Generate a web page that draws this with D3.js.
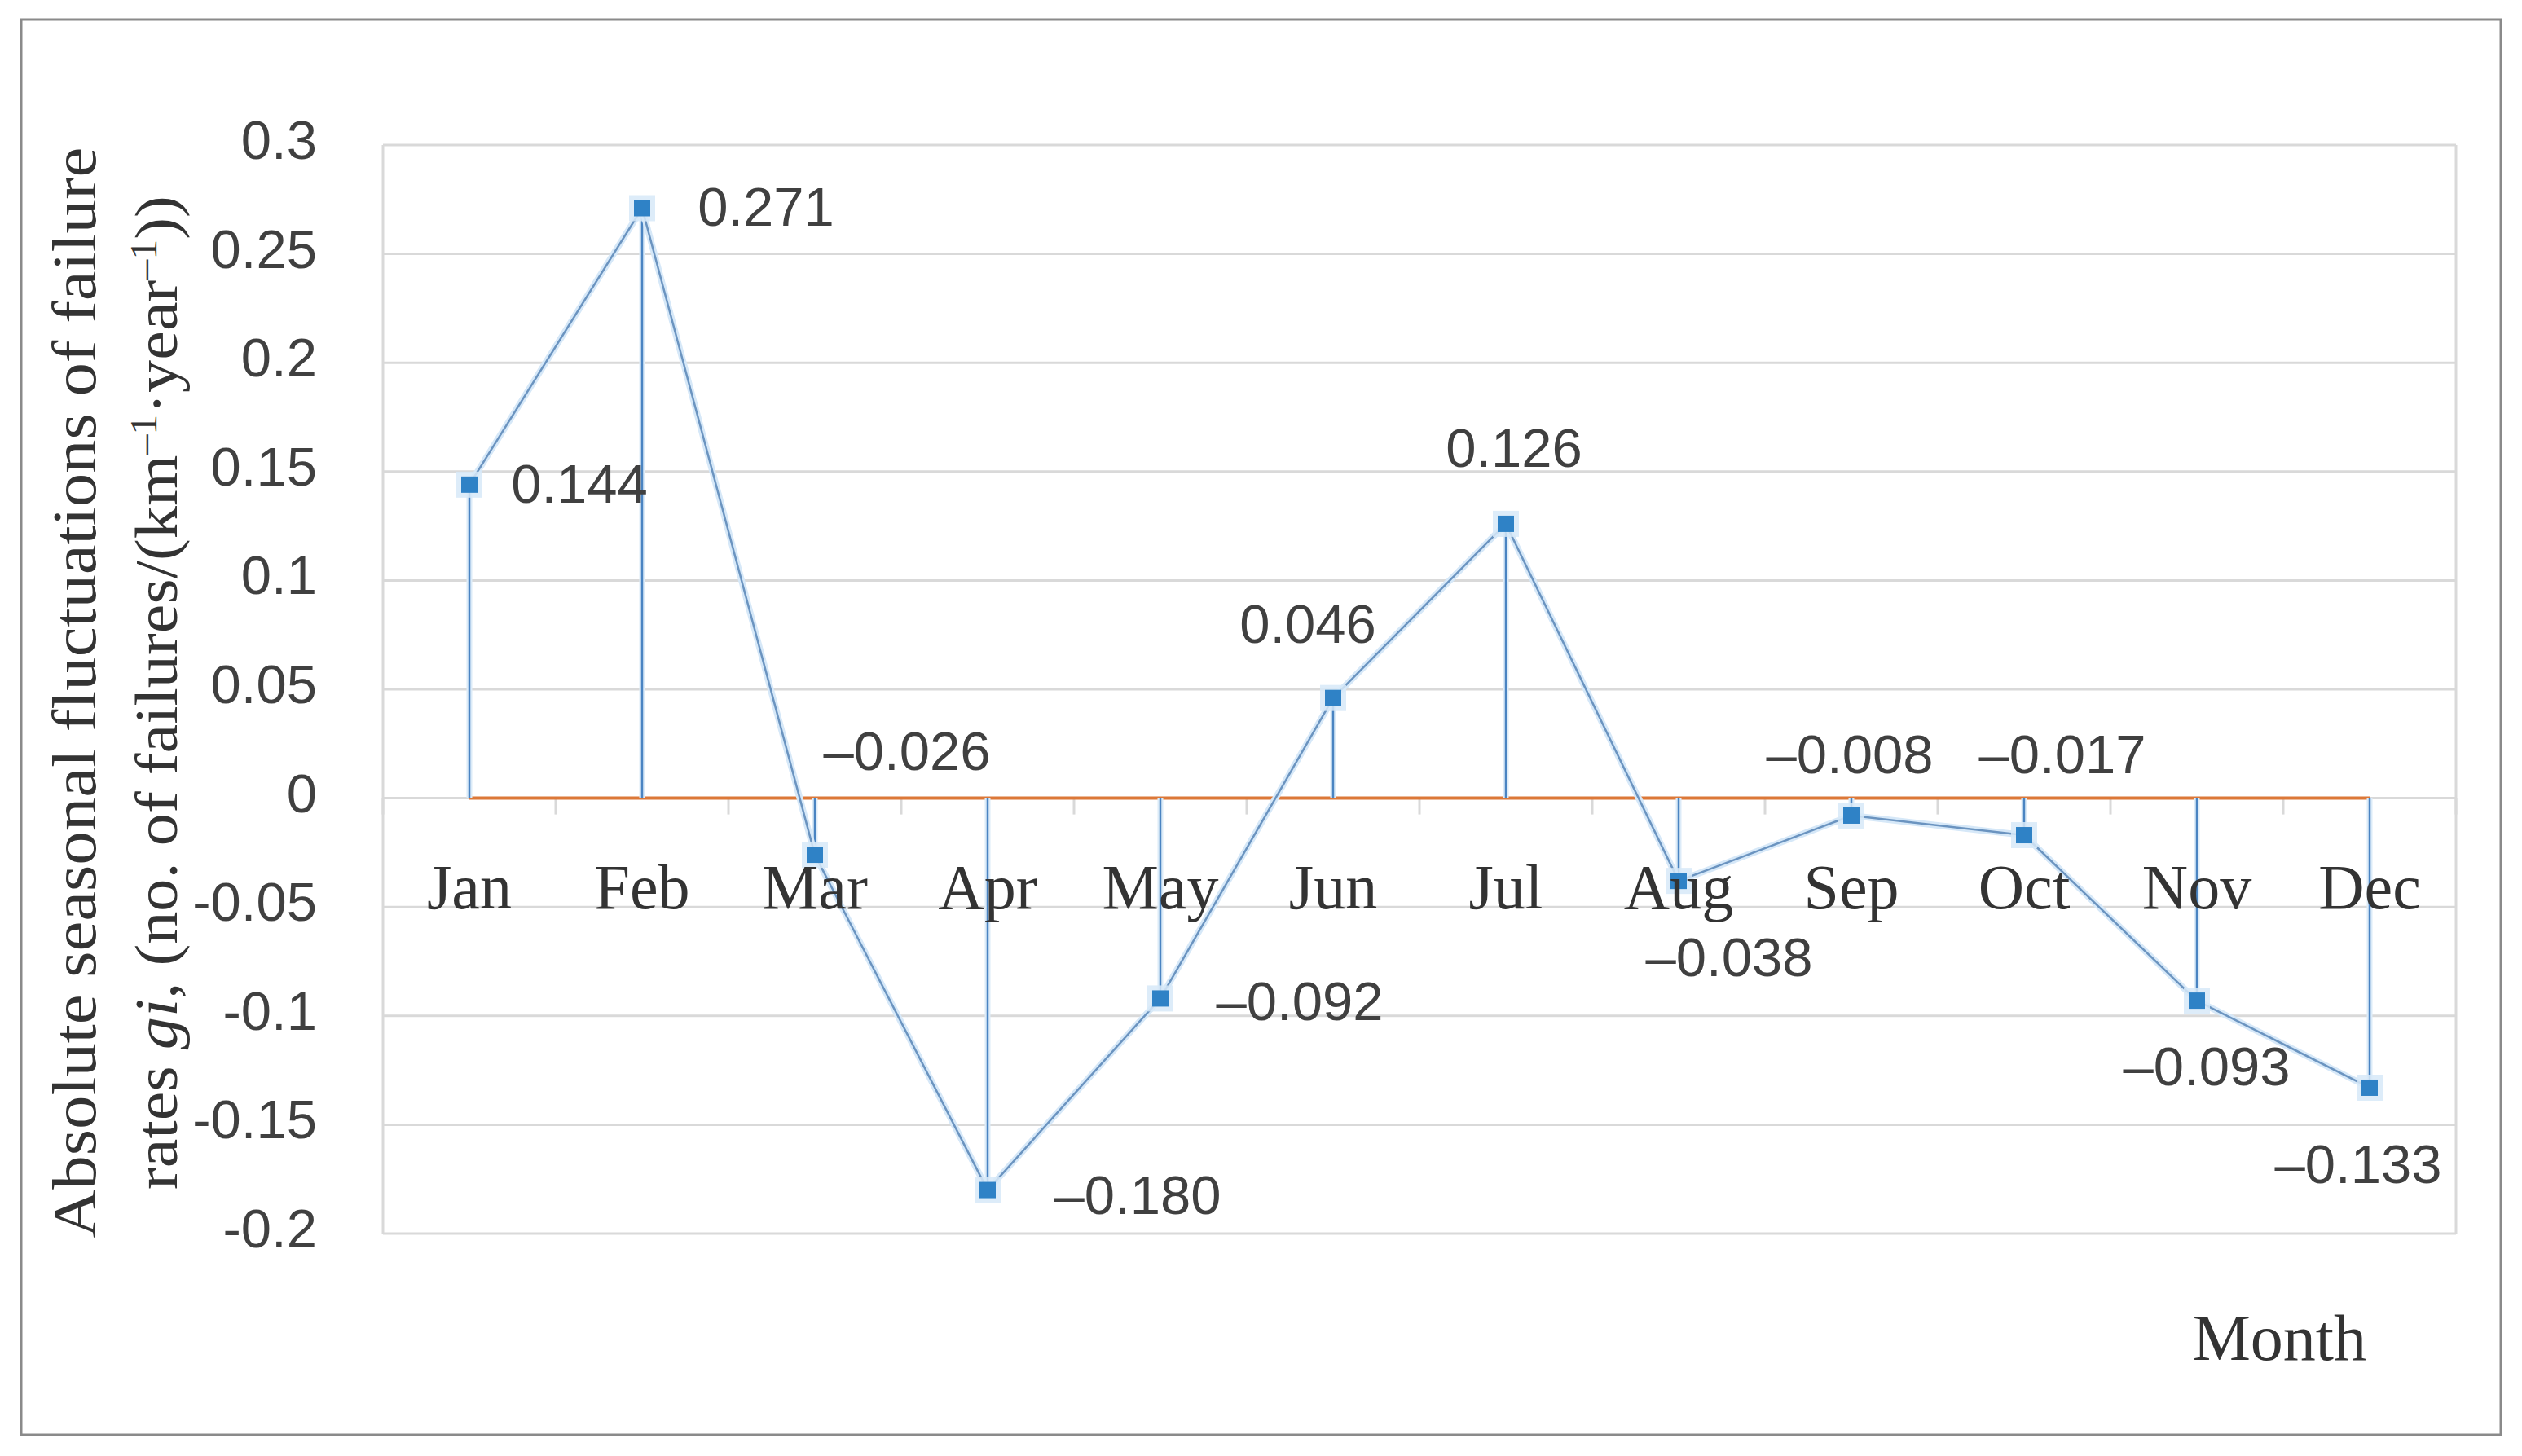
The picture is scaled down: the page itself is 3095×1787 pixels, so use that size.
<!DOCTYPE html>
<html>
<head>
<meta charset="utf-8">
<script src="https://cdn.jsdelivr.net/npm/d3@7"></script>
<style>
  html, body { margin: 0; padding: 0; background: #ffffff; }
  svg { display: block; }
</style>
</head>
<body>
<script>
// ---- data ----
const months = ["Jan", "Feb", "Mar", "Apr", "May", "Jun", "Jul", "Aug", "Sep", "Oct", "Nov", "Dec"];
const values = [0.144, 0.271, -0.026, -0.180, -0.092, 0.046, 0.126, -0.038, -0.008, -0.017, -0.093, -0.133];
const yTicks = [0.3, 0.25, 0.2, 0.15, 0.1, 0.05, 0, -0.05, -0.1, -0.15, -0.2];
const xTitle = "Month";
const yTitleLine1 = "Absolute seasonal fluctuations of failure";

// label offsets relative to each marker (layout only)
const labelOffsets = [
  [135, -2], [152, -2], [113, -128], [184, 5], [171, 3], [-31, -92],
  [10, -94], [62, 93], [-2, -76], [47, -100], [12, 80], [-14, 93]
];

// ---- layout ----
const W = 3095, H = 1787;
const plot = { left: 470, right: 3014, top: 178, bottom: 1514 };

const svg = d3.select("body").append("svg")
  .attr("width", W).attr("height", H)
  .attr("viewBox", `0 0 ${W} ${H}`);

svg.append("rect").attr("width", W).attr("height", H).attr("fill", "#ffffff");

// outer frame
svg.append("rect")
  .attr("x", 26).attr("y", 24).attr("width", 3069 - 26).attr("height", 1761 - 24)
  .attr("fill", "none").attr("stroke", "#8a8a8a").attr("stroke-width", 3);

const x = d3.scaleBand().domain(months).range([plot.left, plot.right]).padding(0);
const y = d3.scaleLinear().domain([-0.2, 0.3]).range([plot.bottom, plot.top]);
const cx = m => x(m) + x.bandwidth() / 2;

const gridColor = "#d9d9d9";
const numFont = "'Liberation Sans', Arial, sans-serif";
const serifFont = "'Liberation Serif', 'Times New Roman', serif";

// gridlines
svg.append("g").selectAll("line").data(yTicks).join("line")
  .attr("x1", plot.left).attr("x2", plot.right)
  .attr("y1", d => y(d)).attr("y2", d => y(d))
  .attr("stroke", gridColor).attr("stroke-width", 3);

// plot area side borders
svg.append("line").attr("x1", plot.left).attr("x2", plot.left)
  .attr("y1", plot.top).attr("y2", plot.bottom).attr("stroke", gridColor).attr("stroke-width", 3);
svg.append("line").attr("x1", plot.right).attr("x2", plot.right)
  .attr("y1", plot.top).attr("y2", plot.bottom).attr("stroke", gridColor).attr("stroke-width", 3);

// category boundary ticks on zero axis
const boundaries = months.map(m => x(m)).concat([plot.right]);
svg.append("g").selectAll("line").data(boundaries).join("line")
  .attr("x1", d => d).attr("x2", d => d)
  .attr("y1", y(0)).attr("y2", y(0) + 20)
  .attr("stroke", gridColor).attr("stroke-width", 3);

// y tick labels
svg.append("g").selectAll("text").data(yTicks).join("text")
  .attr("x", 389).attr("y", d => y(d) + 17)
  .attr("text-anchor", "end")
  .attr("font-family", numFont).attr("font-size", 67)
  .attr("fill", "#404040")
  .text(d => String(+d.toFixed(2)));

// orange zero series line (Jan..Dec)
svg.append("line")
  .attr("x1", cx(months[0])).attr("x2", cx(months[months.length - 1]))
  .attr("y1", y(0)).attr("y2", y(0))
  .attr("stroke", "#dc7838").attr("stroke-width", 4);

// drop lines
const drops = svg.append("g");
drops.selectAll("line.glow").data(values).join("line").attr("class", "glow")
  .attr("x1", (d, i) => cx(months[i])).attr("x2", (d, i) => cx(months[i]))
  .attr("y1", y(0)).attr("y2", d => y(d))
  .attr("stroke", "#dcebf8").attr("stroke-width", 7);
drops.selectAll("line.main").data(values).join("line").attr("class", "main")
  .attr("x1", (d, i) => cx(months[i])).attr("x2", (d, i) => cx(months[i]))
  .attr("y1", y(0)).attr("y2", d => y(d))
  .attr("stroke", "#4a84c2").attr("stroke-width", 2.5);

// connecting line
const line = d3.line().x((d, i) => cx(months[i])).y(d => y(d));
svg.append("path").datum(values).attr("d", line)
  .attr("fill", "none").attr("stroke", "#d6e8f8").attr("stroke-width", 8)
  .attr("stroke-linejoin", "round");
svg.append("path").datum(values).attr("d", line)
  .attr("fill", "none").attr("stroke", "#6b94c0").attr("stroke-width", 2.5)
  .attr("stroke-linejoin", "round");

// markers: light halo + dark square
const halo = 32, ms = 20;
const mk = svg.append("g");
mk.selectAll("rect.halo").data(values).join("rect").attr("class", "halo")
  .attr("x", (d, i) => cx(months[i]) - halo / 2)
  .attr("y", d => y(d) - halo / 2)
  .attr("width", halo).attr("height", halo)
  .attr("fill", "#d7e9f8").attr("opacity", 0.85);
mk.selectAll("rect.core").data(values).join("rect").attr("class", "core")
  .attr("x", (d, i) => cx(months[i]) - ms / 2)
  .attr("y", d => y(d) - ms / 2)
  .attr("width", ms).attr("height", ms)
  .attr("fill", "#2f82c6");

// category labels
svg.append("g").selectAll("text").data(months).join("text")
  .attr("x", d => cx(d)).attr("y", y(0) + 135)
  .attr("text-anchor", "middle")
  .attr("font-family", serifFont).attr("font-size", 78)
  .attr("fill", "#333333")
  .text(d => d);

// data labels
const fmt = v => (v < 0 ? "\u2013" : "") + Math.abs(v).toFixed(3);
svg.append("g").selectAll("text").data(values).join("text")
  .attr("x", (d, i) => cx(months[i]) + labelOffsets[i][0])
  .attr("y", (d, i) => y(d) + labelOffsets[i][1] + 24)
  .attr("text-anchor", "middle")
  .attr("font-family", numFont).attr("font-size", 67)
  .attr("fill", "#404040")
  .text(d => fmt(d));

// x axis title
svg.append("text")
  .attr("x", 2904).attr("y", 1669)
  .attr("text-anchor", "end")
  .attr("font-family", serifFont).attr("font-size", 80)
  .attr("fill", "#333333")
  .text(xTitle);

// y axis title (two lines), centred manually after measuring
function centre(g, targetLen) {
  const t = g.select("text");
  let bb = t.node().getBBox();
  if (targetLen) {
    const s = targetLen / bb.width;
    t.attr("transform", `scale(${s},1)`);
    bb = { x: bb.x * s, width: bb.width * s };
  }
  const shift = -(bb.x + bb.width / 2);
  g.attr("transform", g.attr("transform") + ` translate(${shift},0)`);
}
const yc = 850;
const g1 = svg.append("g").attr("transform", `translate(117, ${yc}) rotate(-90)`);
g1.append("text")
  .attr("font-family", serifFont).attr("font-size", 76)
  .attr("fill", "#333333")
  .text(yTitleLine1);
centre(g1, 1339);

const g2 = svg.append("g").attr("transform", `translate(217, ${yc}) rotate(-90)`);
const t2 = g2.append("text")
  .attr("font-family", serifFont).attr("font-size", 74)
  .attr("fill", "#333333");
t2.append("tspan").text("rates ");
t2.append("tspan").attr("font-style", "italic").text("gi");
t2.append("tspan").text(", (no. of failures/(km");
t2.append("tspan").attr("baseline-shift", "super").attr("font-size", 46).text("\u20131");
t2.append("tspan").text("\u00b7year");
t2.append("tspan").attr("baseline-shift", "super").attr("font-size", 46).text("\u20131");
t2.append("tspan").text("))");
centre(g2, 1220);
</script>
</body>
</html>
